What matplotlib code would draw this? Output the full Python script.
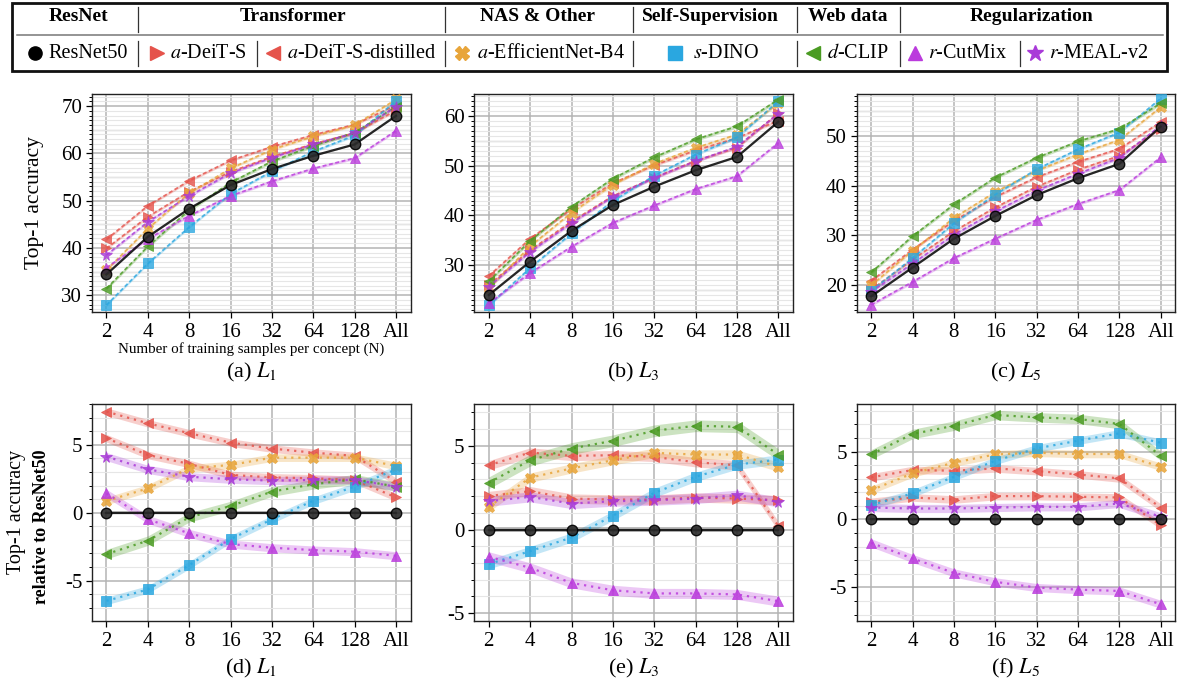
import matplotlib
matplotlib.use("Agg")
import matplotlib.pyplot as plt
from matplotlib.lines import Line2D
from matplotlib.patches import Rectangle
from matplotlib.ticker import MultipleLocator
import numpy as np

plt.rcParams['font.family'] = ['Liberation Serif', 'DejaVu Serif']
plt.rcParams['mathtext.fontset'] = 'stix'
plt.rcParams['axes.unicode_minus'] = False

# ---------------- data ----------------
x_labels = ['2', '4', '8', '16', '32', '64', '128', 'All']

series_names = ['ResNet50', 'a-DeiT-S', 'a-DeiT-S-distilled', 'a-EfficientNet-B4',
                's-DINO', 'd-CLIP', 'r-CutMix', 'r-MEAL-v2']
series_labels = ['ResNet50', r'$a$-DeiT-S', r'$a$-DeiT-S-distilled', r'$a$-EfficientNet-B4',
                 r'$s$-DINO', r'$d$-CLIP', r'$r$-CutMix', r'$r$-MEAL-v2']
series_colors = ['#111111', '#E5534B', '#E5534B', '#E8A53A',
                 '#2AA7E0', '#4A9B22', '#BB3BDD', '#A93AD8']
series_markers = ['o', '>', '<', 'X', 's', '<', '^', '*']

# absolute top-1 accuracy, L1
l1_resnet50 = [34.4, 42.35, 48.3, 53.3, 56.7, 59.5, 61.9, 67.95]
l1_deit_s = [39.9, 46.6, 51.9, 56.1, 59.3, 62.0, 64.3, 69.1]
l1_deit_s_dist = [41.8, 48.9, 54.2, 58.5, 61.4, 63.9, 66.1, 70.2]
l1_effnet_b4 = [35.3, 44.1, 51.6, 56.8, 60.8, 63.6, 66.0, 71.4]
l1_dino = [27.9, 36.7, 44.4, 51.4, 56.2, 60.4, 63.8, 71.1]
l1_clip = [31.4, 40.3, 48.0, 53.8, 58.3, 61.6, 64.4, 69.9]
l1_cutmix = [35.8, 41.9, 46.8, 51.0, 54.1, 56.8, 59.0, 64.8]
l1_meal_v2 = [38.5, 45.5, 51.0, 55.8, 59.1, 61.9, 64.3, 69.9]

# absolute top-1 accuracy, L3
l3_resnet50 = [23.96, 30.7, 36.9, 42.1, 45.8, 49.1, 51.8, 58.86]
l3_deit_s = [26.0, 33.0, 38.75, 43.9, 47.6, 51.0, 53.65, 60.6]
l3_deit_s_dist = [27.8, 35.3, 41.3, 46.5, 50.1, 53.1, 55.6, 59.1]
l3_effnet_b4 = [25.3, 33.8, 40.55, 46.2, 50.4, 53.6, 56.3, 62.6]
l3_dino = [21.9, 29.4, 36.4, 42.9, 48.0, 52.25, 55.7, 63.0]
l3_clip = [26.75, 34.85, 41.75, 47.4, 51.7, 55.3, 57.95, 63.35]
l3_cutmix = [22.3, 28.4, 33.7, 38.5, 42.0, 45.3, 47.9, 54.6]
l3_meal_v2 = [25.65, 32.65, 38.45, 43.8, 47.55, 50.95, 53.85, 60.5]

# absolute top-1 accuracy, L5
l5_resnet50 = [17.7, 23.5, 29.3, 33.9, 38.1, 41.5, 44.4, 51.9]
l5_deit_s = [19.0, 25.1, 30.8, 35.6, 39.8, 43.2, 46.0, 51.5]
l5_deit_s_dist = [20.8, 27.1, 32.9, 37.7, 41.7, 44.8, 47.4, 52.8]
l5_effnet_b4 = [19.9, 26.9, 33.5, 38.7, 43.0, 46.3, 49.2, 55.8]
l5_dino = [18.8, 25.4, 32.4, 38.2, 43.3, 47.3, 50.7, 57.55]
l5_clip = [22.5, 29.8, 36.2, 41.6, 45.6, 48.9, 51.4, 56.6]
l5_cutmix = [16.0, 20.6, 25.4, 29.3, 33.1, 36.3, 39.1, 45.7]
l5_meal_v2 = [18.6, 24.3, 30.1, 34.8, 39.0, 42.4, 45.6, 52.1]

# relative to ResNet50, L1
r1_resnet50 = [0, 0, 0, 0, 0, 0, 0, 0]
r1_deit_s = [5.48, 4.25, 3.59, 2.78, 2.6, 2.53, 2.41, 1.13]
r1_deit_s_dist = [7.44, 6.58, 5.85, 5.16, 4.72, 4.42, 4.18, 2.28]
r1_effnet_b4 = [0.86, 1.79, 3.27, 3.51, 4.05, 4.05, 4.05, 3.44]
r1_dino = [-6.49, -5.65, -3.86, -1.94, -0.49, 0.88, 1.92, 3.19]
r1_clip = [-3.05, -2.06, -0.34, 0.49, 1.55, 2.09, 2.46, 1.92]
r1_cutmix = [1.42, -0.49, -1.52, -2.31, -2.58, -2.75, -2.87, -3.17]
r1_meal_v2 = [4.13, 3.19, 2.65, 2.46, 2.36, 2.41, 2.41, 1.92]

# relative to ResNet50, L3
r3_resnet50 = [0, 0, 0, 0, 0, 0, 0, 0]
r3_deit_s = [2.0, 2.29, 1.85, 1.79, 1.79, 1.91, 1.85, 1.75]
r3_deit_s_dist = [3.84, 4.6, 4.4, 4.44, 4.34, 4.02, 3.84, 0.2]
r3_effnet_b4 = [1.35, 3.1, 3.65, 4.14, 4.58, 4.48, 4.48, 3.75]
r3_dino = [-2.07, -1.29, -0.48, 0.82, 2.19, 3.15, 3.88, 4.18]
r3_clip = [2.79, 4.14, 4.84, 5.3, 5.9, 6.2, 6.14, 4.48]
r3_cutmix = [-1.63, -2.29, -3.19, -3.63, -3.82, -3.82, -3.88, -4.28]
r3_meal_v2 = [1.69, 1.95, 1.55, 1.69, 1.75, 1.85, 2.05, 1.65]

# relative to ResNet50, L5
r5_resnet50 = [0, 0, 0, 0, 0, 0, 0, 0]
r5_deit_s = [1.3, 1.62, 1.47, 1.72, 1.72, 1.67, 1.62, -0.42]
r5_deit_s_dist = [3.1, 3.64, 3.59, 3.76, 3.56, 3.32, 3.02, 0.88]
r5_effnet_b4 = [2.16, 3.39, 4.18, 4.79, 4.91, 4.82, 4.82, 3.88]
r5_dino = [1.06, 1.92, 3.14, 4.32, 5.23, 5.8, 6.34, 5.65]
r5_clip = [4.79, 6.29, 6.9, 7.69, 7.52, 7.4, 7.03, 4.69]
r5_cutmix = [-1.72, -2.87, -3.93, -4.59, -5.01, -5.16, -5.26, -6.24]
r5_meal_v2 = [0.88, 0.81, 0.81, 0.88, 0.93, 0.93, 1.18, 0.2]

# half-width of the shaded spread band for each series
band_halfwidth = [0.12, 0.28, 0.28, 0.28, 0.28, 0.35, 0.3, 0.3]

abs_panels = [
    [l1_resnet50, l1_deit_s, l1_deit_s_dist, l1_effnet_b4, l1_dino, l1_clip, l1_cutmix, l1_meal_v2],
    [l3_resnet50, l3_deit_s, l3_deit_s_dist, l3_effnet_b4, l3_dino, l3_clip, l3_cutmix, l3_meal_v2],
    [l5_resnet50, l5_deit_s, l5_deit_s_dist, l5_effnet_b4, l5_dino, l5_clip, l5_cutmix, l5_meal_v2],
]
rel_panels = [
    [r1_resnet50, r1_deit_s, r1_deit_s_dist, r1_effnet_b4, r1_dino, r1_clip, r1_cutmix, r1_meal_v2],
    [r3_resnet50, r3_deit_s, r3_deit_s_dist, r3_effnet_b4, r3_dino, r3_clip, r3_cutmix, r3_meal_v2],
    [r5_resnet50, r5_deit_s, r5_deit_s_dist, r5_effnet_b4, r5_dino, r5_clip, r5_cutmix, r5_meal_v2],
]
captions_top = [r'(a) $L_1$', r'(b) $L_3$', r'(c) $L_5$']
captions_bot = [r'(d) $L_1$', r'(e) $L_3$', r'(f) $L_5$']
ylims_top = [(26.5, 72.5), (20.6, 64.4), (14.6, 58.4)]
ylims_bot = [(-7.95, 8.0), (-5.45, 7.5), (-7.45, 8.5)]
major_top = 10
major_bot = 5

# ---------------- layout ----------------
W, H = 1179, 684
fig = plt.figure(figsize=(W / 100, H / 100), dpi=100)


def fx(p):
    return p / W


def fy(p):
    return 1 - p / H


col_left = [92, 474.3, 856.7]
col_w = 318.5
top_row = (94.3, 311.7)
bot_row = (404.0, 620.7)

x = np.arange(len(x_labels))


def style_axes(ax, ylim, major, mid_lines):
    ax.set_xlim(-0.35, 7.35)
    ax.set_ylim(*ylim)
    ax.set_xticks(x)
    ax.set_xticklabels(x_labels)
    ax.yaxis.set_major_locator(MultipleLocator(major))
    ax.yaxis.set_minor_locator(MultipleLocator(1))
    ax.grid(True, which='major', axis='both', color='#b4b4b4', lw=1.1, zorder=0)
    ax.grid(True, which='minor', axis='y', color='#e6e6e6', lw=0.8, zorder=0)
    for v in mid_lines:
        ax.axhline(v, color='#cccccc', lw=1.0, zorder=0.5)
    ax.set_axisbelow(True)
    ax.tick_params(axis='both', which='major', labelsize=15, length=4, width=0.9, direction='out')
    ax.tick_params(axis='y', which='minor', length=2.5, width=0.7)
    ax.tick_params(axis='x', pad=4)
    ax.tick_params(axis='y', pad=3)
    for s in ax.spines.values():
        s.set_linewidth(1.0)
        s.set_color('#222222')


for c in range(3):
    # ---- top: absolute accuracy ----
    ax = fig.add_axes([fx(col_left[c]), fy(top_row[1]), col_w / W, (top_row[1] - top_row[0]) / H])
    lo, hi = ylims_top[c]
    mids = [v for v in np.arange(5, 100, 10) if lo < v < hi]
    style_axes(ax, ylims_top[c], major_top, mids)
    vals = abs_panels[c]
    for i in range(len(series_names)):
        y = np.array(vals[i])
        col = series_colors[i]
        b = band_halfwidth[i]
        if i == 0:
            ax.fill_between(x, y - b, y + b, color=col, alpha=0.25, lw=0, zorder=3)
            ax.plot(x, y, color='#111111', lw=1.6, ls='-', marker='o', ms=7.5,
                    mfc='#2a2a2a', mec='#000000', mew=1.0, alpha=0.9, zorder=5)
        else:
            ax.fill_between(x, y - b, y + b, color=col, alpha=0.28, lw=0, zorder=2)
            ax.plot(x, y, color=col, lw=1.3, ls=(0, (2.2, 1.4)), marker=series_markers[i],
                    ms=8.5 if series_markers[i] == '*' else 7.5, mfc=col, mec=col, mew=0.6,
                    alpha=0.8, zorder=4)
    fig.text(fx(col_left[c] + col_w / 2), fy(372), captions_top[c], ha='center', va='center',
             fontsize=16)
    if c == 0:
        fig.text(fx(35), fy((top_row[0] + top_row[1]) / 2), 'Top-1 accuracy', rotation=90,
                 ha='center', va='center', fontsize=15.5)
        fig.text(fx(col_left[c] + col_w / 2), fy(349), 'Number of training samples per concept (N)',
                 ha='center', va='center', fontsize=10.8)

    # ---- bottom: relative to ResNet50 ----
    ax = fig.add_axes([fx(col_left[c]), fy(bot_row[1]), col_w / W, (bot_row[1] - bot_row[0]) / H])
    style_axes(ax, ylims_bot[c], major_bot, [])
    vals = rel_panels[c]
    for i in range(len(series_names)):
        y = np.array(vals[i])
        col = series_colors[i]
        b = band_halfwidth[i]
        if i == 0:
            ax.fill_between(x, y - b, y + b, color='#444444', alpha=0.35, lw=0, zorder=3)
            ax.plot(x, y, color='#111111', lw=1.6, ls='-', marker='o', ms=7.5,
                    mfc='#2a2a2a', mec='#000000', mew=1.0, alpha=0.9, zorder=5)
        else:
            ax.fill_between(x, y - b, y + b, color=col, alpha=0.28, lw=0, zorder=2)
            ax.plot(x, y, color=col, lw=1.6, ls=(0, (1.0, 2.2)), marker=series_markers[i],
                    ms=8.5 if series_markers[i] == '*' else 7.5, mfc=col, mec=col, mew=0.6,
                    alpha=0.85, zorder=4)
    fig.text(fx(col_left[c] + col_w / 2), fy(668), captions_bot[c], ha='center', va='center',
             fontsize=16)
    if c == 0:
        fig.text(fx(17), fy(512), 'Top-1 accuracy', rotation=90, ha='center', va='center',
                 fontsize=14.5)
        fig.text(fx(42), fy(527), 'relative to ResNet50', rotation=90, ha='center', va='center',
                 fontsize=13, fontweight='bold')

# ---------------- legend table ----------------
fig.add_artist(Rectangle((fx(12.3), fy(70.7)), fx(1166.7) - fx(12.3), fy(2.7) - fy(70.7),
                         transform=fig.transFigure, fill=False, ec='#111111', lw=2.0))
fig.add_artist(Line2D([fx(16.7), fx(1163)], [fy(35), fy(35)], transform=fig.transFigure,
                      color='#777777', lw=1.1))

group_titles = ['ResNet', 'Transformer', 'NAS & Other', 'Self-Supervision', 'Web data', 'Regularization']
group_centers = [78, 293, 538, 710, 848, 1031.7]
for t, cx in zip(group_titles, group_centers):
    fig.text(fx(cx), fy(16.7), t, ha='center', va='center', fontsize=14, fontweight='bold')

for sx in [138.3, 445, 633.3, 796.7, 900]:
    fig.add_artist(Line2D([fx(sx), fx(sx)], [fy(7), fy(32)], transform=fig.transFigure,
                          color='#333333', lw=0.9))
for sx in [138.3, 256.7, 445, 633.3, 796.7, 900, 1020]:
    fig.add_artist(Line2D([fx(sx), fx(sx)], [fy(41), fy(66)], transform=fig.transFigure,
                          color='#333333', lw=0.9))

marker_x = [35, 157, 273, 462, 675, 813, 915, 1035]
text_x = [48, 170, 287, 477, 693, 827, 928, 1049]
for i in range(len(series_names)):
    m = series_markers[i]
    ms = 12 if m == '*' else 9.5
    fig.add_artist(Line2D([fx(marker_x[i])], [fy(53.3)], transform=fig.transFigure,
                          marker=m, ms=ms, color=series_colors[i] if i else '#000000',
                          ls='none'))
    fig.text(fx(text_x[i]), fy(53.3), series_labels[i], ha='left', va='center', fontsize=14.5)

fig.savefig('out.png', dpi=100)
